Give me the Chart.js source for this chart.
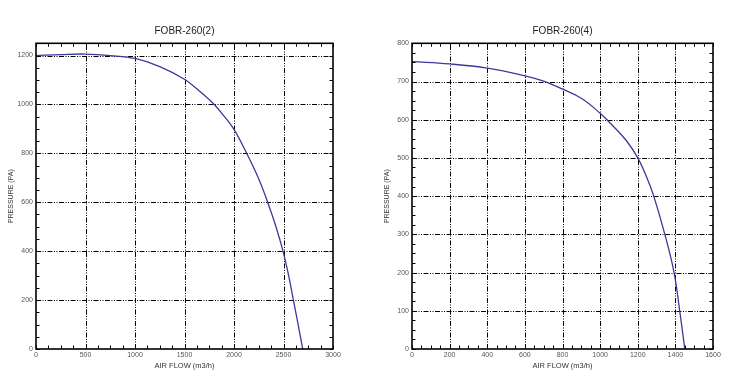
<!DOCTYPE html>
<html><head><meta charset="utf-8">
<script src="https://cdn.jsdelivr.net/npm/chart.js@4"></script>
<style>
html,body{margin:0;padding:0;background:#fff;}
#wrap{position:relative;width:753px;height:382px;overflow:hidden;}
.c{position:absolute;top:0;height:382px;}
</style></head><body>
<div id="wrap">
<div class="c" style="left:0;width:376px"><canvas id="c1"></canvas></div>
<div class="c" style="left:376px;width:377px"><canvas id="c2"></canvas></div>
</div>
<script>
const titles = ['FOBR-260(2)', 'FOBR-260(4)'];
const xTitle = 'AIR FLOW (m3/h)';
const yTitle = 'PRESSURE (PA)';

// FOBR-260(2)
const flow2     = [0, 250, 500, 750, 1000, 1250, 1500, 1650, 1800, 1900, 2000, 2128, 2245, 2340, 2424, 2495, 2552, 2600, 2648, 2694];
const pressure2 = [1200, 1204, 1206, 1200, 1188, 1155, 1103, 1055, 1000, 952, 898, 800, 700, 600, 500, 400, 300, 200, 100, 0];
const xTicks2 = [0, 500, 1000, 1500, 2000, 2500, 3000];
const yTicks2 = [0, 200, 400, 600, 800, 1000, 1200];
const xRange2 = [0, 3000], yRange2 = [0, 1250];
const xMinor2 = 125, yMinor2 = 50;

// FOBR-260(4)
const flow4     = [0, 200, 400, 600, 700, 800, 900, 1000, 1070, 1140, 1200, 1247, 1285, 1344, 1393, 1423, 1450];
const pressure4 = [752, 746, 735, 715, 701, 680, 656, 617, 583, 545, 500, 450, 400, 300, 200, 100, 0];
const xTicks4 = [0, 200, 400, 600, 800, 1000, 1200, 1400, 1600];
const yTicks4 = [0, 100, 200, 300, 400, 500, 600, 700, 800];
const xRange4 = [0, 1600], yRange4 = [0, 800];
const xMinor4 = 50, yMinor4 = 25;

const FONT = "'Liberation Sans', Arial, Helvetica, sans-serif";

const frame = {
  id: 'frame',
  beforeDatasetsDraw(chart, args, o) {
    const {ctx, chartArea: a, scales: {x, y}} = chart;
    ctx.save();
    ctx.strokeStyle = '#000';
    ctx.lineWidth = 1;
    ctx.setLineDash([5, 1.5, 1, 1.5, 1, 1.5]);
    for (const v of o.xMajor) {
      if (v <= x.min || v >= x.max) continue;
      const px = Math.round(x.getPixelForValue(v)) + 0.5;
      ctx.beginPath(); ctx.moveTo(px, a.bottom); ctx.lineTo(px, a.top); ctx.stroke();
    }
    for (const v of o.yMajor) {
      if (v <= y.min || v >= y.max) continue;
      const py = Math.round(y.getPixelForValue(v)) + 0.5;
      ctx.beginPath(); ctx.moveTo(a.left, py); ctx.lineTo(a.right, py); ctx.stroke();
    }
    ctx.restore();
  },
  afterDatasetsDraw(chart, args, o) {
    const {ctx, chartArea: a, scales: {x, y}} = chart;
    const L = 3.5;
    ctx.save();
    ctx.strokeStyle = '#000';
    ctx.lineWidth = 1;
    ctx.beginPath();
    for (let v = x.min; v <= x.max + 1e-6; v += o.xMinor) {
      const px = Math.round(x.getPixelForValue(v)) + 0.5;
      ctx.moveTo(px, a.bottom); ctx.lineTo(px, a.bottom - L);
      ctx.moveTo(px, a.top); ctx.lineTo(px, a.top + L);
    }
    for (let v = y.min; v <= y.max + 1e-6; v += o.yMinor) {
      const py = Math.round(y.getPixelForValue(v)) + 0.5;
      ctx.moveTo(a.left, py); ctx.lineTo(a.left + L, py);
      ctx.moveTo(a.right, py); ctx.lineTo(a.right - L, py);
    }
    ctx.stroke();
    ctx.lineWidth = 1.6;
    ctx.strokeRect(a.left, a.top, a.right - a.left, a.bottom - a.top);
    ctx.restore();
  }
};

const centerTitle = {
  id: 'centerTitle',
  afterLayout(chart) {
    const t = chart.titleBlock;
    if (t) { t.left = chart.chartArea.left; t.right = chart.chartArea.right; t.width = t.right - t.left; }
  }
};

function makeChart(id, title, xs, ys, xTicks, yTicks, xr, yr, xMinor, yMinor, padRight) {
  new Chart(document.getElementById(id), {
    type: 'scatter',
    data: {
      datasets: [{
        data: xs.map((v, i) => ({x: v, y: ys[i]})),
        showLine: true,
        borderColor: '#3a3a9c',
        borderWidth: 1.3,
        pointRadius: 0,
        tension: 0.4,
        fill: false
      }]
    },
    options: {
      responsive: true,
      maintainAspectRatio: false,
      animation: false,
      events: [],
      layout: {padding: {left: 0, right: padRight, top: 0, bottom: 0}},
      plugins: {
        legend: {display: false},
        tooltip: {enabled: false},
        title: {
          display: true, text: title, color: '#222',
          font: {family: FONT, size: 10, weight: 'normal', lineHeight: 1.2},
          padding: {top: 25, bottom: 6.3}
        },
        frame: {xMajor: xTicks, yMajor: yTicks, xMinor: xMinor, yMinor: yMinor}
      },
      scales: {
        x: {
          type: 'linear', min: xr[0], max: xr[1],
          afterBuildTicks: s => { s.ticks = xTicks.map(v => ({value: v})); },
          afterFit: s => { s.height = 33; },
          grid: {display: false, drawTicks: false}, border: {display: false},
          ticks: {color: '#555', padding: 2, maxRotation: 0, autoSkip: false,
                  font: {family: FONT, size: 7}, callback: v => String(v)},
          title: {display: true, text: xTitle, color: '#333', font: {family: FONT, size: 7.5}, padding: {top: 0, bottom: 11.5}}
        },
        y: {
          type: 'linear', min: yr[0], max: yr[1],
          afterBuildTicks: s => { s.ticks = yTicks.map(v => ({value: v})); },
          afterFit: s => { s.width = 36; },
          grid: {display: false, drawTicks: false}, border: {display: false},
          ticks: {color: '#555', padding: 3, autoSkip: false,
                  font: {family: FONT, size: 7}, callback: v => String(v)},
          title: {display: true, text: yTitle, color: '#333', font: {family: FONT, size: 7}, padding: {top: 6.8, bottom: 0}}
        }
      }
    },
    plugins: [frame, centerTitle]
  });
}

makeChart('c1', titles[0], flow2, pressure2, xTicks2, yTicks2, xRange2, yRange2, xMinor2, yMinor2, 43);
makeChart('c2', titles[1], flow4, pressure4, xTicks4, yTicks4, xRange4, yRange4, xMinor4, yMinor4, 40);
</script>
</body></html>
